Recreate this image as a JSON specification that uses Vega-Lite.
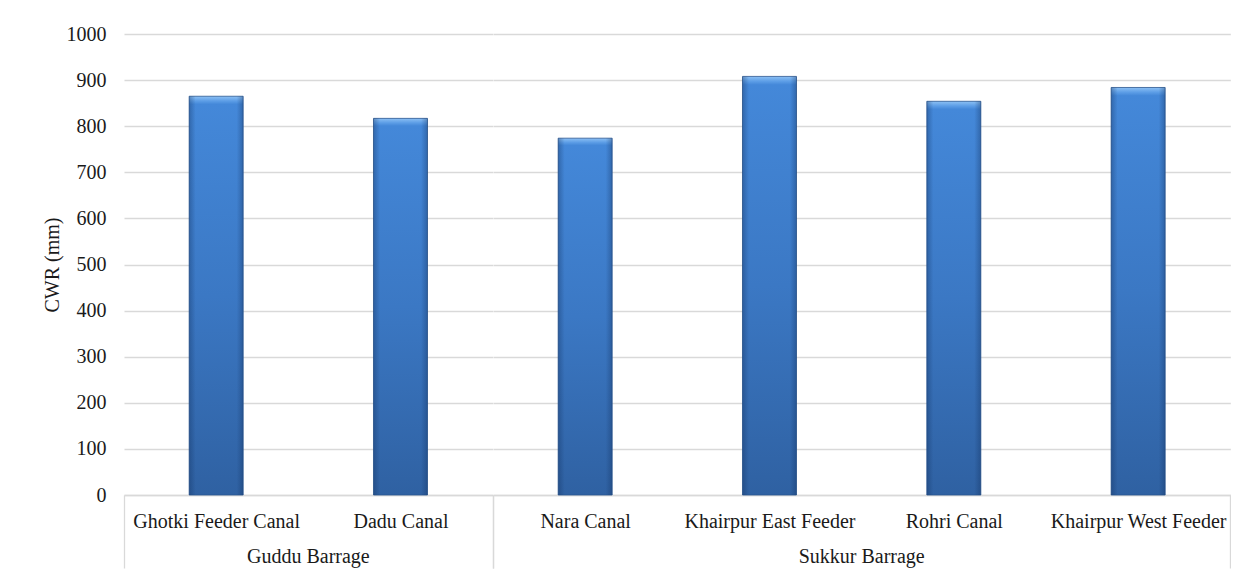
{
  "$schema": "https://vega.github.io/schema/vega-lite/v6.json",
  "background": "white",
  "padding": {"left": 42, "top": 24, "right": 0, "bottom": 0},
  "data": {
    "values": [
      {"barrage": "Guddu Barrage", "canal": "Ghotki Feeder Canal", "cwr": 865},
      {"barrage": "Guddu Barrage", "canal": "Dadu Canal", "cwr": 817},
      {"barrage": "Sukkur Barrage", "canal": "Nara Canal", "cwr": 774},
      {"barrage": "Sukkur Barrage", "canal": "Khairpur East Feeder", "cwr": 908},
      {"barrage": "Sukkur Barrage", "canal": "Rohri Canal", "cwr": 854},
      {"barrage": "Sukkur Barrage", "canal": "Khairpur West Feeder", "cwr": 884}
    ]
  },
  "facet": {
    "column": {
      "field": "barrage",
      "type": "nominal",
      "title": null,
      "sort": null,
      "header": {
        "orient": "bottom",
        "labelFont": "Liberation Serif",
        "labelFontSize": 20,
        "labelColor": "#1a1a1a",
        "labelPadding": 52
      }
    }
  },
  "spacing": 0,
  "bounds": "flush",
  "resolve": {"scale": {"x": "independent"}},
  "spec": {
    "width": {"step": 184.33},
    "height": 461,
    "encoding": {
      "x": {
        "field": "canal",
        "type": "nominal",
        "sort": null,
        "scale": {"paddingInner": 0, "paddingOuter": 0},
        "axis": {
          "title": null,
          "labelAngle": 0,
          "labelFont": "Liberation Serif",
          "labelFontSize": 20,
          "labelColor": "#1a1a1a",
          "labelPadding": -57,
          "domainColor": "#d9d9d9",
          "domainWidth": 1.3,
          "tickBand": "extent",
          "tickColor": "#d9d9d9",
          "tickWidth": 1.3,
          "tickSize": 73,
          "tickOpacity": {"condition": {"test": "datum.index < 0 || datum.index >= 1", "value": 1}, "value": 0},
          "grid": false
        }
      },
      "y": {
        "field": "cwr",
        "type": "quantitative",
        "scale": {"domain": [0, 1000], "nice": false},
        "axis": {
          "values": [0, 100, 200, 300, 400, 500, 600, 700, 800, 900, 1000],
          "format": "d",
          "title": "CWR (mm)",
          "titleFont": "Liberation Serif",
          "titleFontSize": 20,
          "titleFontWeight": "normal",
          "titleColor": "#1a1a1a",
          "titlePadding": 4,
          "labelFont": "Liberation Serif",
          "labelFontSize": 20,
          "labelColor": "#1a1a1a",
          "labelPadding": 18,
          "domain": false,
          "ticks": false,
          "gridColor": "#d9d9d9",
          "gridWidth": 1.3
        }
      }
    },
    "layer": [
      {
        "mark": {
          "type": "bar",
          "width": {"band": 0.293},
          "stroke": "#2a558f",
          "strokeWidth": 0.8,
          "fill": {
            "gradient": "linear",
            "x1": 0, "y1": 0, "x2": 0, "y2": 1,
            "stops": [
              {"offset": 0, "color": "#8cc0f4"},
              {"offset": 0.012, "color": "#5c9de6"},
              {"offset": 0.02, "color": "#4488d9"},
              {"offset": 0.5, "color": "#3b78c4"},
              {"offset": 1, "color": "#2f61a2"}
            ]
          }
        }
      },
      {
        "mark": {
          "type": "bar",
          "width": {"band": 0.293},
          "fill": {
            "gradient": "linear",
            "x1": 0, "y1": 0, "x2": 1, "y2": 0,
            "stops": [
              {"offset": 0, "color": "rgba(16,45,90,0.35)"},
              {"offset": 0.12, "color": "rgba(16,45,90,0)"},
              {"offset": 0.88, "color": "rgba(16,45,90,0)"},
              {"offset": 1, "color": "rgba(16,45,90,0.35)"}
            ]
          }
        }
      }
    ]
  },
  "config": {
    "view": {"stroke": null, "strokeWidth": 0},
    "style": {"cell": {"stroke": "transparent", "strokeWidth": 0}}
  }
}
